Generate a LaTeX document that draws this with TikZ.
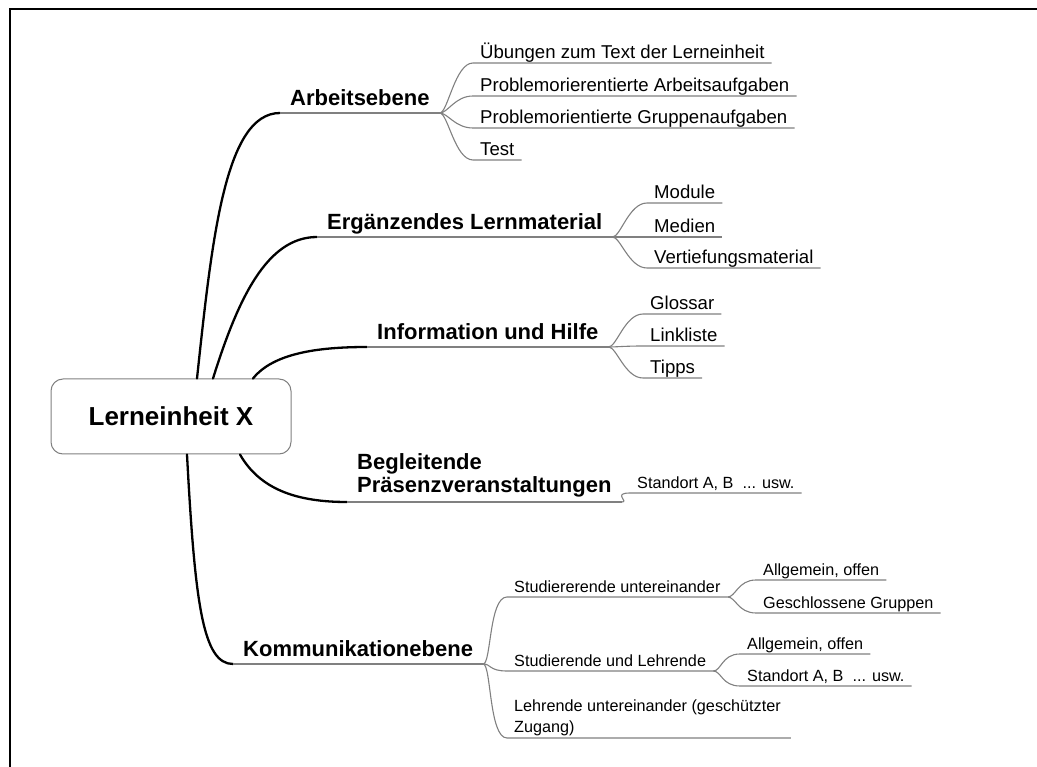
\documentclass[tikz,border=0pt]{standalone}
\usepackage{fontspec}
\setmainfont{Liberation Sans}

\begin{document}
\begin{tikzpicture}[x=1pt,y=-1pt,
  root/.style={draw=gray,line width=1pt,rounded corners=12pt,minimum width=240pt,minimum height=75pt,font=\bfseries\fontsize{26}{30}\selectfont},
  topic/.style={anchor=south west,inner xsep=10pt,font=\bfseries\fontsize{22}{23.5}\selectfont},
  main/.style={topic,inner ysep=7pt,text depth=0pt},
  sub/.style={anchor=south west,inner xsep=7pt,font=\fontsize{18.6}{21.5}\selectfont},
  leaf/.style={sub,inner ysep=4.5pt,text depth=0pt},
  small/.style={leaf,font=\fontsize{16.2}{21}\selectfont},
  branch/.style={line width=2.3pt,line cap=round},
  twig/.style={gray,line width=1.1pt}]
\useasboundingbox (0,0) rectangle (1037,767);
% Frame on the left and top
\draw[line width=2.4pt] (10,767) -- (10,9) -- (1037,9);
% Central topic
\node[root] (lx) at (171,416.5) {Lerneinheit X};
% Main topics
\node[main] (arb) at (280,113) {Arbeitsebene};
\node[main] (erg) at (317,237) {Ergänzendes Lernmaterial};
\node[main] (inf) at (367,347) {Information und Hilfe};
\node[topic,align=left,inner ysep=4.5pt] (beg) at (347,502) {Begleitende\\Präsenzveranstaltungen};
\node[main] (kom) at (233,664) {Kommunikationebene};
% Branches from the central topic
\draw[branch] ([xshift=26pt]lx.north) .. controls +(15,-140) and +(-55,0) .. (arb.south west);
\draw[branch] ([xshift=42pt]lx.north) .. controls +(25,-80) and +(-50,0) .. (erg.south west);
\draw[branch] ([xshift=82pt]lx.north) .. controls +(20,-25) and +(-50,0) .. (inf.south west);
\draw[branch] ([xshift=69pt]lx.south) .. controls +(20,35) and +(-50,0) .. (beg.south west);
\draw[branch] ([xshift=16pt]lx.south) .. controls +(8,150) and +(-30,0) .. (kom.south west);
% Underlines of main topics
\draw[twig] (arb.south west) -- (arb.south east);
\draw[twig] (erg.south west) -- (erg.south east);
\draw[twig] (inf.south west) -- (inf.south east);
\draw[twig] (beg.south west) -- (beg.south east);
\draw[twig] (kom.south west) -- (kom.south east);
% Arbeitsebene
\node[leaf] (arb1) at (473,63) {Übungen zum Text der Lerneinheit};
\node[leaf] (arb2) at (473,96) {Problemorierentierte Arbeitsaufgaben};
\node[leaf] (arb3) at (473,128) {Problemorientierte Gruppenaufgaben};
\node[leaf] (arb4) at (473,160) {Test};
\draw[twig] (arb.south east) .. controls +(8,0) and +(-18,0) .. (arb1.south west) -- (arb1.south east);
\draw[twig] (arb.south east) .. controls +(8,0) and +(-18,0) .. (arb2.south west) -- (arb2.south east);
\draw[twig] (arb.south east) .. controls +(8,0) and +(-18,0) .. (arb3.south west) -- (arb3.south east);
\draw[twig] (arb.south east) .. controls +(8,0) and +(-18,0) .. (arb4.south west) -- (arb4.south east);
% Ergaenzendes Lernmaterial
\node[leaf] (erg1) at (647,203) {Module};
\node[leaf] (erg2) at (647,237) {Medien};
\node[leaf] (erg3) at (647,268) {Vertiefungsmaterial};
\draw[twig] (erg.south east) .. controls +(8,0) and +(-18,0) .. (erg1.south west) -- (erg1.south east);
\draw[twig] (erg.south east) .. controls +(8,0) and +(-18,0) .. (erg2.south west) -- (erg2.south east);
\draw[twig] (erg.south east) .. controls +(8,0) and +(-18,0) .. (erg3.south west) -- (erg3.south east);
% Information und Hilfe
\node[leaf] (inf1) at (643,314) {Glossar};
\node[leaf] (inf2) at (643,346) {Linkliste};
\node[leaf] (inf3) at (643,378) {Tipps};
\draw[twig] (inf.south east) .. controls +(8,0) and +(-18,0) .. (inf1.south west) -- (inf1.south east);
\draw[twig] (inf.south east) .. controls +(8,0) and +(-18,0) .. (inf2.south west) -- (inf2.south east);
\draw[twig] (inf.south east) .. controls +(8,0) and +(-18,0) .. (inf3.south west) -- (inf3.south east);
% Begleitende Praesenzveranstaltungen
\node[small] (beg1) at (630,493) {Standort A, B\ \ ... usw.};
\draw[twig] (beg.south east) .. controls +(8,0) and +(-18,0) .. (beg1.south west) -- (beg1.south east);
% Kommunikationebene
\node[small] (kom1) at (507,597) {Studiererende untereinander};
\node[small] (kom2) at (507,671) {Studierende und Lehrende};
\node[sub,font=\fontsize{16.2}{21}\selectfont,align=left,inner ysep=1.5pt] (kom3) at (507,738) {Lehrende untereinander (geschützter\\Zugang)};
\draw[twig] (kom.south east) .. controls +(8,0) and +(-18,0) .. (kom1.south west) -- (kom1.south east);
\draw[twig] (kom.south east) .. controls +(8,0) and +(-18,0) .. (kom2.south west) -- (kom2.south east);
\draw[twig] (kom.south east) .. controls +(8,0) and +(-18,0) .. (kom3.south west) -- ([xshift=3pt]kom3.south east);
\node[small] (stu1) at (756,580) {Allgemein, offen};
\node[small] (stu2) at (756,613) {Geschlossene Gruppen};
\draw[twig] (kom1.south east) .. controls +(8,0) and +(-18,0) .. (stu1.south west) -- (stu1.south east);
\draw[twig] (kom1.south east) .. controls +(8,0) and +(-18,0) .. (stu2.south west) -- (stu2.south east);
\node[small] (sul1) at (740,654) {Allgemein, offen};
\node[small] (sul2) at (740,686) {Standort A, B\ \ ... usw.};
\draw[twig] (kom2.south east) .. controls +(8,0) and +(-18,0) .. (sul1.south west) -- (sul1.south east);
\draw[twig] (kom2.south east) .. controls +(8,0) and +(-18,0) .. (sul2.south west) -- (sul2.south east);
\end{tikzpicture}
\end{document}
